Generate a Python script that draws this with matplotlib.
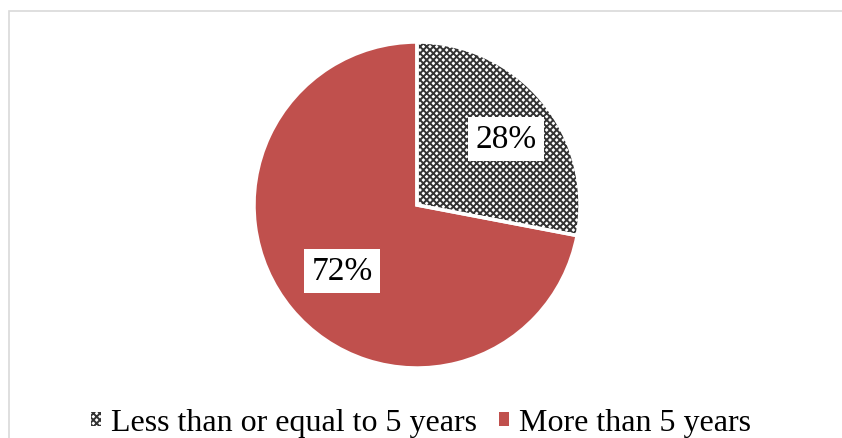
import matplotlib.pyplot as plt
from matplotlib.patches import Rectangle, Patch, Wedge

plt.rcParams['font.family'] = ['Liberation Serif', 'DejaVu Serif']
plt.rcParams['hatch.linewidth'] = 1.4

labels = ['Less than or equal to 5 years', 'More than 5 years']
values = [28, 72]
pct_text = ['28%', '72%']
colors = ['#ffffff', '#c0504d']

fig = plt.figure(figsize=(8.42, 4.39), dpi=100)
fig.patches.append(Rectangle((9 / 842, -0.01), 0.99, 1 - 12 / 439 + 0.01,
                             transform=fig.transFigure, fill=False,
                             edgecolor='#d9d9d9', linewidth=1.2))

ax = fig.add_axes([0, 0, 1, 1])
cx, cy, r = 417, 439 - 206, 163

wedges, _ = ax.pie(values, colors=colors, startangle=90, counterclock=False,
                   center=(cx, cy), radius=r, frame=True,
                   wedgeprops=dict(linewidth=0))
ax.axis('off')
ax.set_xlim(0, 842)
ax.set_ylim(0, 439)
ax.set_aspect('equal')

# hatched slice
wedges[0].set_facecolor('#ffffff')
wedges[0].set_edgecolor('#333333')
wedges[0].set_hatch('xxxxx')
wedges[0].set_linewidth(0)

# white separators
for w in wedges:
    ax.add_patch(Wedge(w.center, w.r, w.theta1, w.theta2,
                       fill=False, edgecolor='white', linewidth=2.5))

ax.text(506, 439 - 140, pct_text[0], ha='center', va='center', fontsize=24,
        bbox=dict(facecolor='white', edgecolor='none', pad=5))
ax.text(342, 439 - 272, pct_text[1], ha='center', va='center', fontsize=24,
        bbox=dict(facecolor='white', edgecolor='none', pad=5))

handles = [Patch(facecolor='white', edgecolor='#333333', hatch='xxxxx', linewidth=0),
           Patch(facecolor=colors[1], edgecolor='none')]
fig.legend(handles, labels, loc='center', bbox_to_anchor=(0.5, 1 - 424 / 439),
           ncol=2, frameon=False, fontsize=23, handlelength=0.32, handleheight=0.32,
           handletextpad=0.3, columnspacing=0.7)

fig.savefig('out.png', dpi=100)
